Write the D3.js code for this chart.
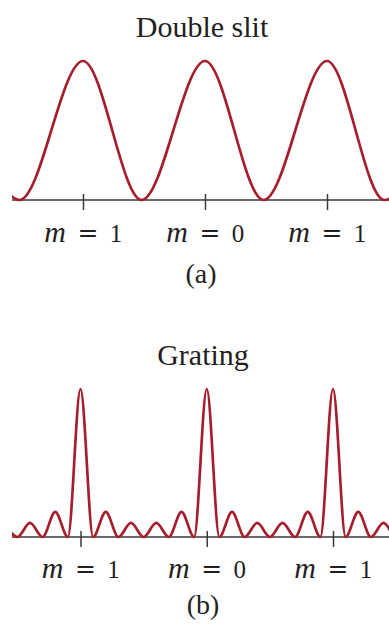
<!DOCTYPE html>
<html>
<head>
<meta charset="utf-8">
<script src="https://cdn.jsdelivr.net/npm/d3@7"></script>
<style>
  body { margin: 0; background: #fff; }
  text { font-family: "Liberation Serif", "DejaVu Serif", serif; fill: #231f20; }
</style>
</head>
<body>
<div id="chart"></div>
<script>
// values
var mTicks = [-1, 0, 1];
var mLabels = ["1", "0", "1"];

// double slit: position of extrema (in units of m) and relative intensity
var slitX = [-2, -1.52, -1, -0.52, 0, 0.48, 1, 1.47, 2];
var slitI = [1, 0, 1, 0, 1, 0, 1, 0, 1];

// grating: extrema and relative intensity
var gratingX = [-1.6, -1.5, -1.4, -1.3, -1.2, -1.1, -1.0, -0.9, -0.8, -0.7, -0.6,
  -0.5, -0.4, -0.3, -0.2, -0.1, 0, 0.1, 0.2, 0.3, 0.4, 0.5, 0.6, 0.7, 0.8, 0.9,
  1.0, 1.1, 1.2, 1.3, 1.4, 1.5, 1.6];
var gratingI = [0.095, 0, 0.095, 0, 0.17, 0, 1, 0, 0.17, 0, 0.095,
  0, 0.095, 0, 0.17, 0, 1, 0, 0.17, 0, 0.095, 0, 0.095, 0, 0.17, 0,
  1, 0, 0.17, 0, 0.095, 0, 0.095];

var svgWidth = 389;
var svgHeight = 624;
var red = "#a61e2d";
var axisColor = "#3a3a3a";

var svg = d3.select("#chart")
  .append("svg")
  .attr("width", svgWidth)
  .attr("height", svgHeight);

svg.append("defs").append("clipPath")
  .attr("id", "clip")
  .append("rect")
  .attr("x", 12)
  .attr("y", 0)
  .attr("width", svgWidth - 12)
  .attr("height", svgHeight);

function drawPanel(opts) {
  var x = d3.scaleLinear().domain([-1, 1]).range(opts.xRange);
  var y = d3.scaleLinear().domain([0, 1]).range([opts.base, opts.top]);

  var g = svg.append("g");

  // title
  g.append("text")
    .attr("x", opts.titleX)
    .attr("y", opts.titleY)
    .attr("text-anchor", "middle")
    .style("font-size", "30px")
    .text(opts.title);

  // baseline
  g.append("line")
    .attr("x1", 12)
    .attr("x2", svgWidth)
    .attr("y1", opts.base)
    .attr("y2", opts.base)
    .attr("stroke", axisColor)
    .attr("stroke-width", 1.4);

  // ticks
  var axis = g.append("g")
    .attr("transform", `translate(0, ${opts.base})`)
    .call(d3.axisBottom(x).tickValues(mTicks).tickSize(10).tickFormat(""));
  axis.select(".domain").remove();
  axis.selectAll(".tick line")
    .attr("y1", -6)
    .attr("stroke", axisColor)
    .attr("stroke-width", 1.5);

  // curve
  var data = opts.xs.map((d, i) => [d, opts.is[i]]);
  var line = d3.line()
    .x(d => x(d[0]))
    .y(d => y(d[1]))
    .curve(d3.curveMonotoneX);

  g.append("path")
    .datum(data)
    .attr("clip-path", "url(#clip)")
    .attr("fill", "none")
    .attr("stroke", red)
    .attr("stroke-width", 2.7)
    .attr("d", line);

  // m = n labels
  mTicks.forEach(function(v, i) {
    var lg = g.append("g")
      .attr("transform", `translate(${x(v)}, ${opts.labelY})`);
    lg.append("text")
      .attr("x", -28)
      .attr("text-anchor", "middle")
      .style("font-size", "30px")
      .style("font-style", "italic")
      .text("m");
    lg.append("text")
      .attr("x", 5)
      .attr("y", -1)
      .attr("text-anchor", "middle")
      .style("font-family", "DejaVu Sans")
      .style("font-size", "25px")
      .text("=");
    lg.append("text")
      .attr("x", 33)
      .attr("text-anchor", "middle")
      .style("font-size", "25px")
      .text(mLabels[i]);
  });

  // sub caption
  g.append("text")
    .attr("x", opts.capX)
    .attr("y", opts.capY)
    .attr("text-anchor", "middle")
    .style("font-size", "28px")
    .text(opts.caption);
}

drawPanel({
  title: "Double slit", titleX: 202, titleY: 37,
  xRange: [83, 327], base: 200, top: 61,
  xs: slitX, is: slitI,
  labelY: 242, caption: "(a)", capX: 201, capY: 283
});

drawPanel({
  title: "Grating", titleX: 203, titleY: 365,
  xRange: [80.5, 333], base: 537, top: 389,
  xs: gratingX, is: gratingI,
  labelY: 578, caption: "(b)", capX: 203, capY: 614
});
</script>
</body>
</html>
